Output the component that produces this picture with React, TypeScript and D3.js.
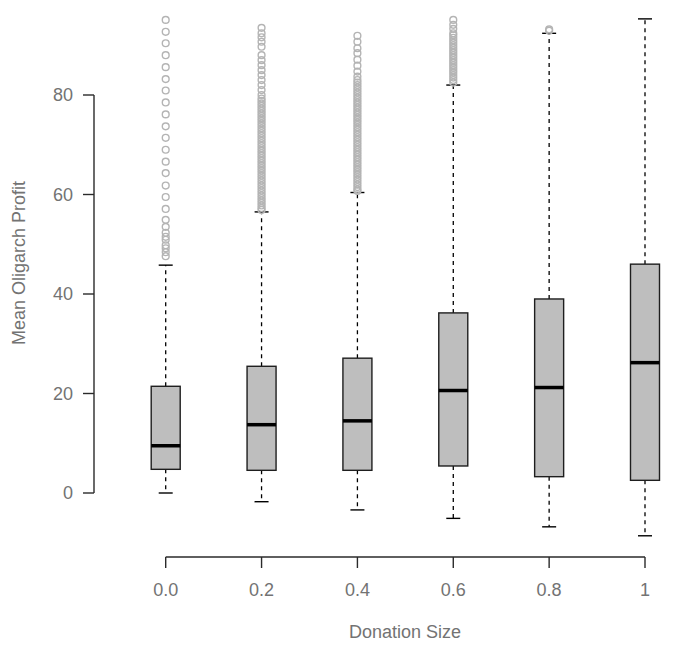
import React from "react";
import * as d3 from "d3";

const categories = ["0.0", "0.2", "0.4", "0.6", "0.8", "1"];
const q1 = [4.76, 4.56, 4.56, 5.43, 3.28, 2.55];
const medians = [9.5, 13.73, 14.5, 20.6, 21.2, 26.2];
const q3 = [21.45, 25.47, 27.1, 36.2, 39.0, 46.0];
const whiskerLow = [0.0, -1.75, -3.4, -5.1, -6.8, -8.6];
const whiskerHigh = [45.8, 56.5, 60.4, 82.0, 92.4, 95.3];

const outliers0 = [95.1, 92.7, 90.4, 88.0, 85.6, 83.2, 80.9, 78.5, 76.1, 73.7, 71.4, 69.0, 66.6, 64.3, 61.8, 59.5, 57.1, 54.9, 53.5, 52.3, 51.5, 50.9, 49.8, 49.2, 48.4, 47.6];
const outliers2 = [93.5, 92.4, 91.6, 90.7, 89.7, 88.0, 87.0, 86.0, 85.0, 84.0, 83.0, 82.0, 81.0, 80.0, 79.3,
  78.8, 78.3, 77.8, 77.3, 76.8, 76.3, 75.8, 75.3, 74.8, 74.3, 73.8, 73.3, 72.8, 72.3, 71.8, 71.3, 70.8, 70.3, 69.8, 69.3,
  68.8, 68.3, 67.8, 67.3, 66.8, 66.3, 65.8, 65.3, 64.8, 64.3, 63.8, 63.3, 62.8, 62.3, 61.8, 61.3, 60.8, 60.3, 59.8, 59.3,
  58.8, 58.3, 57.8, 57.3, 56.9];
const outliers4 = [91.9, 90.7, 89.4, 88.4, 87.1, 85.9, 84.7, 83.7, 83.0, 82.5, 82.0, 81.5, 81.0, 80.5, 80.0, 79.5, 79.0,
  78.5, 78.0, 77.5, 77.0, 76.5, 76.0, 75.5, 75.0, 74.5, 74.0, 73.5, 73.0, 72.5, 72.0, 71.5, 71.0, 70.5, 70.0, 69.5, 69.0,
  68.5, 68.0, 67.5, 67.0, 66.5, 66.0, 65.5, 65.0, 64.5, 64.0, 63.5, 63.0, 62.5, 62.0, 61.5, 61.0, 60.7];
const outliers6 = [95.1, 94.1, 93.3, 92.4, 92.0, 91.5, 91.0, 90.5, 90.0, 89.5, 89.0, 88.5, 88.0, 87.5, 87.0, 86.5, 86.0,
  85.5, 85.0, 84.5, 84.0, 83.5, 83.0, 82.5];
const outliers8 = [93.2, 92.9];
const outliers10: number[] = [];
const outliers = [outliers0, outliers2, outliers4, outliers6, outliers8, outliers10];

const yTicks = [0, 20, 40, 60, 80];

const FONT = "'Liberation Sans', Arial, Helvetica, sans-serif";
const TEXT = "#737373";
const AXIS = "#2a2a2a";

export default function App() {
  const W = 683, H = 652;
  const x = d3.scalePoint<string>().domain(categories).range([165.7, 645]);
  const y = d3.scaleLinear().domain([0, 80]).range([493, 95]);
  const bw = 29;
  const cap = 14;
  const axisX = 94;
  const axisY = 557;

  return (
    <svg width={W} height={H} style={{ position: "absolute", left: 0, top: 0, background: "#fff" }} fontFamily={FONT}>
      {/* y axis */}
      <line x1={axisX} x2={axisX} y1={y(0)} y2={y(80)} stroke={AXIS} strokeWidth={1.4} />
      {yTicks.map((t) => (
        <g key={t}>
          <line x1={axisX - 11} x2={axisX} y1={y(t)} y2={y(t)} stroke={AXIS} strokeWidth={1.4} />
          <text x={73} y={y(t)} dy="0.35em" textAnchor="end" fontSize={18} fill={TEXT}>{t}</text>
        </g>
      ))}
      <text transform={`translate(25,${263}) rotate(-90)`} textAnchor="middle" fontSize={18} fill={TEXT}>Mean Oligarch Profit</text>

      {/* x axis */}
      <line x1={x(categories[0])} x2={x(categories[categories.length - 1])} y1={axisY} y2={axisY} stroke={AXIS} strokeWidth={1.4} />
      {categories.map((c) => (
        <g key={c}>
          <line x1={x(c)} x2={x(c)} y1={axisY} y2={axisY + 11} stroke={AXIS} strokeWidth={1.4} />
          <text x={x(c)} y={590} dy="0.35em" textAnchor="middle" fontSize={18} fill={TEXT}>{c}</text>
        </g>
      ))}
      <text x={405} y={632} dy="0.35em" textAnchor="middle" fontSize={18} fill={TEXT}>Donation Size</text>

      {/* boxes */}
      {categories.map((c, i) => {
        const cx = x(c) as number;
        return (
          <g key={c}>
            <line x1={cx} x2={cx} y1={y(q3[i])} y2={y(whiskerHigh[i])} stroke="#000" strokeWidth={1.3} strokeDasharray="4,4" />
            <line x1={cx} x2={cx} y1={y(q1[i])} y2={y(whiskerLow[i])} stroke="#000" strokeWidth={1.3} strokeDasharray="4,4" />
            <line x1={cx - cap / 2} x2={cx + cap / 2} y1={y(whiskerHigh[i])} y2={y(whiskerHigh[i])} stroke="#000" strokeWidth={1.4} />
            <line x1={cx - cap / 2} x2={cx + cap / 2} y1={y(whiskerLow[i])} y2={y(whiskerLow[i])} stroke="#000" strokeWidth={1.4} />
            <rect x={cx - bw / 2} width={bw} y={y(q3[i])} height={y(q1[i]) - y(q3[i])} fill="#bebebe" stroke="#1e1e1e" strokeWidth={1.4} />
            <line x1={cx - bw / 2} x2={cx + bw / 2} y1={y(medians[i])} y2={y(medians[i])} stroke="#000" strokeWidth={3.5} />
            {outliers[i].map((v, j) => (
              <circle key={j} cx={cx} cy={y(v)} r={3.4} fill="none" stroke="#b4b4b4" strokeWidth={1.4} />
            ))}
          </g>
        );
      })}
    </svg>
  );
}
